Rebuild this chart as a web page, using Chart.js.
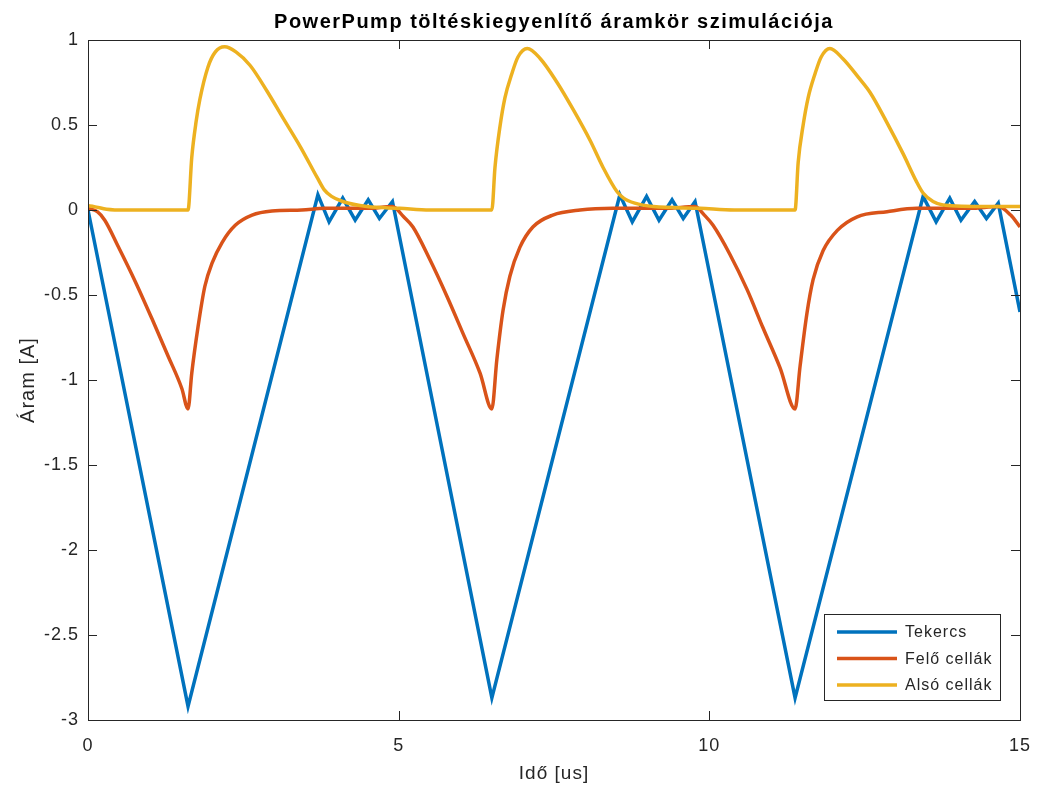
<!DOCTYPE html>
<html>
<head>
<meta charset="utf-8" />
<title>PowerPump töltéskiegyenlítő áramkör szimulációja</title>
<script src="https://cdn.jsdelivr.net/npm/chart.js@4.4.0/dist/chart.umd.min.js"></script>
<style>
    html, body { margin: 0; padding: 0; background: #fff; }
    #wrap { width: 1038px; height: 787px; }
</style>
</head>
<body>
<div id="wrap"><canvas id="chart" width="1038" height="787"></canvas></div>
<script>
// values, time in us, current in A
var tekercsT = [0, 1.61, 3.70, 3.88, 4.10, 4.30, 4.51, 4.69, 4.90,
                6.50, 8.56, 8.76, 8.99, 9.19, 9.40, 9.58, 9.77,
                11.38, 13.44, 13.65, 13.87, 14.05, 14.27, 14.46, 14.65, 15.0];
var tekercsA = [0, -2.92, 0.09, -0.07, 0.07, -0.06, 0.06, -0.05, 0.05,
                -2.87, 0.09, -0.07, 0.08, -0.06, 0.06, -0.05, 0.05,
                -2.87, 0.08, -0.07, 0.07, -0.06, 0.05, -0.05, 0.04, -0.60];

var feloT = [0, 0.15, 0.27, 0.48, 0.76, 1.03, 1.29, 1.51, 1.61,
             1.67, 1.77, 1.88, 2.0, 2.16, 2.37, 2.64, 2.96, 3.44, 3.81, 4.5, 4.90,
             5.08, 5.23, 5.50, 5.78, 6.04, 6.31, 6.50,
             6.58, 6.68, 6.79, 6.95, 7.16, 7.48, 7.92, 8.45, 9.3, 9.77,
             9.92, 10.06, 10.33, 10.61, 10.86, 11.14, 11.38,
             11.46, 11.57, 11.67, 11.83, 12.06, 12.38, 12.86, 13.34, 14.2, 14.65, 14.85, 15.0];
var feloA = [0.01, -0.01, -0.06, -0.21, -0.42, -0.64, -0.86, -1.05, -1.17,
             -0.96, -0.69, -0.45, -0.31, -0.19, -0.09, -0.03, -0.006, 0, 0.01, 0.01, 0.02,
             -0.04, -0.10, -0.29, -0.51, -0.73, -0.96, -1.17,
             -0.88, -0.59, -0.39, -0.22, -0.10, -0.03, 0, 0.01, 0.01, 0.02,
             -0.03, -0.09, -0.26, -0.47, -0.69, -0.93, -1.17,
             -0.92, -0.61, -0.41, -0.24, -0.12, -0.04, -0.01, 0.01, 0.01, 0.02, -0.03, -0.10];

var alsoT = [0, 0.1, 0.3, 0.6, 1.61, 1.67, 1.74, 1.80, 1.93, 2.05, 2.20, 2.38, 2.61, 2.88, 3.14, 3.42, 3.69, 3.80, 3.92, 4.10, 4.49, 5.02, 5.5, 6.50,
             6.55, 6.63, 6.71, 6.82, 6.92, 7.07, 7.28, 7.55, 7.81, 8.08, 8.29, 8.51, 8.62, 8.80, 9.10, 9.85, 10.4, 11.38,
             11.43, 11.51, 11.59, 11.70, 11.80, 11.94, 12.15, 12.40, 12.59, 12.85, 13.12, 13.33, 13.44, 13.60, 13.76, 14.47, 15.0];
var alsoA = [0.025, 0.02, 0.005, 0, 0, 0.31, 0.52, 0.65, 0.84, 0.93, 0.96, 0.93, 0.85, 0.70, 0.54, 0.37, 0.19, 0.12, 0.08, 0.05, 0.02, 0.01, 0, 0,
             0.25, 0.49, 0.66, 0.80, 0.90, 0.95, 0.89, 0.75, 0.59, 0.41, 0.25, 0.11, 0.07, 0.04, 0.02, 0.01, 0, 0,
             0.28, 0.50, 0.66, 0.80, 0.90, 0.95, 0.89, 0.78, 0.69, 0.52, 0.33, 0.17, 0.10, 0.05, 0.03, 0.02, 0.02];

var xTicks = [0, 5, 10, 15];
var yTicks = [-3, -2.5, -2, -1.5, -1, -0.5, 0, 0.5, 1];

var axisColor = '#262626';
var fontFamily = "Arial, 'Liberation Sans', Helvetica, sans-serif";

function toPoints(ts, vs) {
    var pts = [];
    for (var i = 0; i < ts.length; i++) {
        pts.push({ x: ts[i], y: vs[i] });
    }
    return pts;
}

// MATLAB-like box, inward ticks, title and legend
var matlabFrame = {
    id: 'matlabFrame',
    beforeDraw: function (chart) {
        chart.ctx.letterSpacing = '1px';
    },
    afterDraw: function (chart) {
        var ctx = chart.ctx;
        var a = chart.chartArea;
        var xs = chart.scales.x, ys = chart.scales.y;
        var tl = 9;
        ctx.save();
        ctx.strokeStyle = axisColor;
        ctx.lineWidth = 1;
        ctx.strokeRect(Math.round(a.left) + 0.5, Math.round(a.top) + 0.5,
                       Math.round(a.right - a.left), Math.round(a.bottom - a.top));
        ctx.beginPath();
        xTicks.forEach(function (v) {
            var px = Math.round(xs.getPixelForValue(v)) + 0.5;
            ctx.moveTo(px, a.bottom); ctx.lineTo(px, a.bottom - tl);
            ctx.moveTo(px, a.top); ctx.lineTo(px, a.top + tl);
        });
        yTicks.forEach(function (v) {
            var py = Math.round(ys.getPixelForValue(v)) + 0.5;
            ctx.moveTo(a.left, py); ctx.lineTo(a.left + tl, py);
            ctx.moveTo(a.right, py); ctx.lineTo(a.right - tl, py);
        });
        ctx.stroke();

        // title
        ctx.fillStyle = '#000';
        ctx.font = 'bold 20px ' + fontFamily;
        ctx.letterSpacing = '1.5px';
        ctx.textAlign = 'center';
        ctx.textBaseline = 'alphabetic';
        ctx.fillText('PowerPump töltéskiegyenlítő áramkör szimulációja', (a.left + a.right) / 2, 28);

        // legend box, bottom right inside the axes
        var bx = 824, by = 614, bw = 176, bh = 86;
        ctx.fillStyle = '#fff';
        ctx.fillRect(bx, by, bw, bh);
        ctx.strokeRect(bx + 0.5, by + 0.5, bw, bh);
        ctx.letterSpacing = '1px';
        ctx.font = '16px ' + fontFamily;
        ctx.textAlign = 'left';
        ctx.textBaseline = 'middle';
        chart.data.datasets.forEach(function (ds, i) {
            var y = 632 + i * 26.5;
            ctx.strokeStyle = ds.borderColor;
            ctx.lineWidth = 3.5;
            ctx.beginPath();
            ctx.moveTo(837, y); ctx.lineTo(897, y);
            ctx.stroke();
            ctx.fillStyle = axisColor;
            ctx.fillText(ds.label, 905, y + 1);
        });
        ctx.restore();
    }
};

Chart.defaults.font.family = fontFamily;
Chart.defaults.color = axisColor;

var ctx = document.getElementById('chart').getContext('2d');
var chart = new Chart(ctx, {
    type: 'line',
    data: {
        datasets: [{
            label: 'Tekercs',
            data: toPoints(tekercsT, tekercsA),
            borderColor: '#0072BD',
            borderWidth: 3.5,
            pointRadius: 0,
            tension: 0,
            order: 2
        }, {
            label: 'Felő cellák',
            data: toPoints(feloT, feloA),
            borderColor: '#D95319',
            borderWidth: 3.5,
            pointRadius: 0,
            cubicInterpolationMode: 'monotone',
            order: 1
        }, {
            label: 'Alsó cellák',
            data: toPoints(alsoT, alsoA),
            borderColor: '#EDB120',
            borderWidth: 3.5,
            pointRadius: 0,
            cubicInterpolationMode: 'monotone',
            order: 0
        }]
    },
    options: {
        responsive: false,
        animation: false,
        layout: { padding: { left: 0, right: 18, top: 40, bottom: 0 } },
        plugins: {
            legend: { display: false },
            title: { display: false },
            tooltip: { enabled: false }
        },
        scales: {
            x: {
                type: 'linear',
                min: 0,
                max: 15,
                grid: { display: false, drawTicks: false },
                border: { display: false },
                ticks: {
                    stepSize: 5,
                    padding: 15,
                    font: { size: 18 },
                    color: axisColor,
                    callback: function (v) { return String(v); }
                },
                title: {
                    display: true,
                    text: 'Idő [us]',
                    font: { size: 19 },
                    color: axisColor,
                    padding: { top: 0, bottom: 2 }
                },
                afterFit: function (scale) {
                    scale.height = 67;
                    scale.paddingLeft = 0;
                    scale.paddingRight = 0;
                }
            },
            y: {
                type: 'linear',
                min: -3,
                max: 1,
                grid: { display: false, drawTicks: false },
                border: { display: false },
                ticks: {
                    stepSize: 0.5,
                    padding: 9,
                    font: { size: 18 },
                    color: axisColor,
                    callback: function (v) { return String(v); }
                },
                title: {
                    display: true,
                    text: 'Áram [A]',
                    font: { size: 20 },
                    color: axisColor,
                    padding: { top: 16, bottom: 0 }
                },
                afterFit: function (scale) {
                    scale.width = 88;
                    scale.paddingTop = 0;
                    scale.paddingBottom = 0;
                }
            }
        }
    },
    plugins: [matlabFrame]
});
</script>
</body>
</html>
